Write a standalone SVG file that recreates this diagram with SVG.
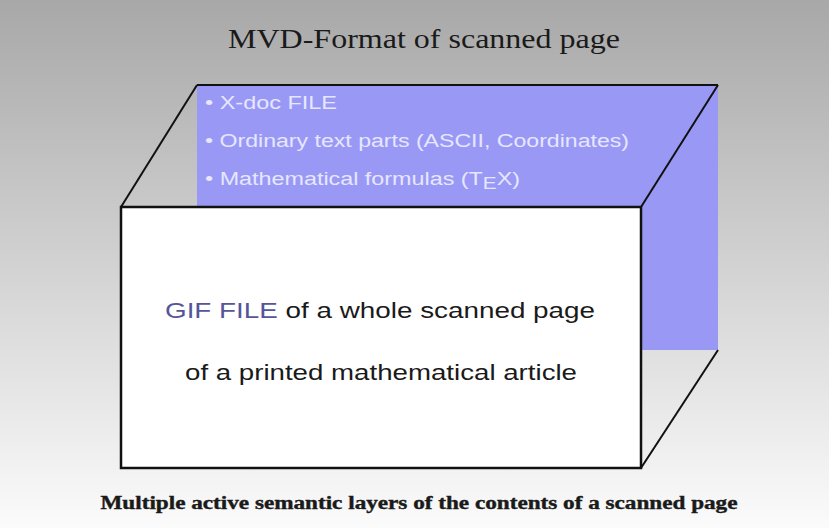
<svg xmlns="http://www.w3.org/2000/svg" width="829" height="528" viewBox="0 0 829 528">
<defs>
<linearGradient id="bg" x1="0" y1="0" x2="0" y2="1">
<stop offset="0" stop-color="#a8a8a8"/>
<stop offset="0.55" stop-color="#d6d6d6"/>
<stop offset="1" stop-color="#fbfbfb"/>
</linearGradient>
<style>
.edge{stroke:#111;stroke-width:2;fill:none}
.bl{font-family:"Liberation Sans",Arial,sans-serif;font-size:18px;fill:#e6e6ff}
.fr{font-family:"Liberation Sans",Arial,sans-serif;font-size:22px;fill:#1a1a1a}
</style>
</defs>
<rect x="0" y="0" width="829" height="528" fill="url(#bg)"/>
<text x="424" y="48" text-anchor="middle" font-family="Liberation Serif,serif" font-size="27" fill="#1a1a1a" textLength="392" lengthAdjust="spacingAndGlyphs">MVD-Format of scanned page</text>
<g id="back-layer">
<rect x="197" y="85" width="521" height="265" fill="#9999f5"/>
<text class="bl" x="205" y="109" textLength="132" lengthAdjust="spacingAndGlyphs">• X-doc FILE</text>
<text class="bl" x="205" y="147" textLength="424" lengthAdjust="spacingAndGlyphs">• Ordinary text parts (ASCII, Coordinates)</text>
<text class="bl" x="205" y="185" textLength="315" lengthAdjust="spacingAndGlyphs">• Mathematical formulas (T<tspan dy="4" font-size="16">E</tspan><tspan dy="-4">X)</tspan></text>
</g>
<g id="connectors">
<line class="edge" x1="197" y1="85" x2="718" y2="85" stroke-width="1" stroke="#6a6ab0"/>
<line class="edge" x1="197" y1="85" x2="121" y2="207"/>
<line class="edge" x1="718" y1="85" x2="641" y2="207"/>
<line class="edge" x1="718" y1="350" x2="641" y2="468"/>
</g>
<g id="front-layer">
<rect x="121" y="207" width="520" height="261" fill="#ffffff" stroke="#111" stroke-width="2.5"/>
<text class="fr" x="380" y="318" text-anchor="middle" textLength="430" lengthAdjust="spacingAndGlyphs"><tspan fill="#55559a">GIF FILE</tspan> of a whole scanned page</text>
<text class="fr" x="381" y="380" text-anchor="middle" textLength="392" lengthAdjust="spacingAndGlyphs">of a printed mathematical article</text>
</g>
<text x="419" y="509" text-anchor="middle" font-family="Liberation Serif,serif" font-weight="bold" font-size="18" fill="#1a1a1a" stroke="#1a1a1a" stroke-width="0.4" textLength="637" lengthAdjust="spacingAndGlyphs">Multiple active semantic layers of the contents of a scanned page</text>
</svg>
